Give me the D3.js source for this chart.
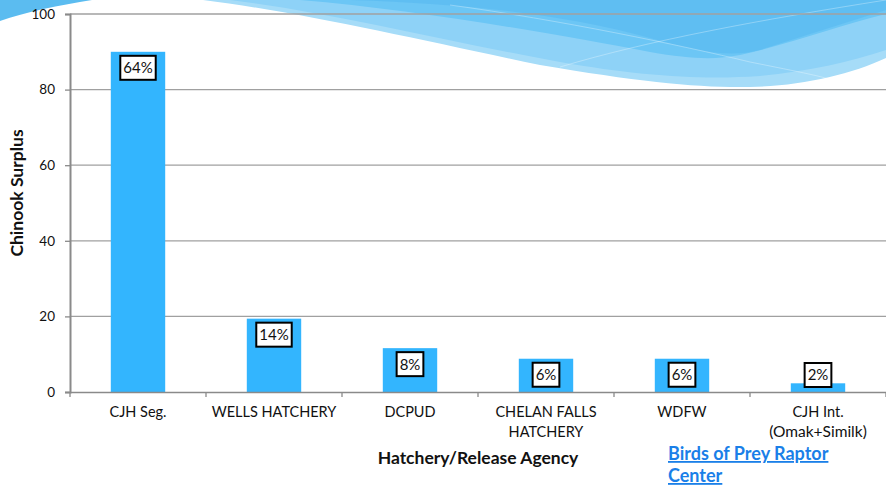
<!DOCTYPE html>
<html>
<head>
<meta charset="utf-8">
<script src="https://cdn.jsdelivr.net/npm/d3@7"></script>
<style>
  body { margin: 0; background: #fff; }
  svg { display: block; font-family: Lato, "Open Sans", sans-serif; }
</style>
</head>
<body>
<svg id="chart" width="886" height="489"></svg>
<script>
// chart data
const agencies = ["CJH Seg.", "WELLS HATCHERY", "DCPUD", "CHELAN FALLS\nHATCHERY", "WDFW", "CJH Int.\n(Omak+Similk)"]
const surplus = [90, 19.4, 11.6, 8.8, 8.8, 2.3]
const percents = ["64%", "14%", "8%", "6%", "6%", "2%"]
const yTicks = [0, 20, 40, 60, 80, 100]

const svg = d3.select("#chart")
const margin = {left: 70, right: 0, top: 14, bottom: 97}
const W = 886, H = 489
const x0 = margin.left, x1 = W - margin.right
const y0 = H - margin.bottom, y1 = margin.top

// slide background swoosh (decoration only)
const bg = svg.append("g")
bg.append("path")
    .attr("d", "M0,0 L92,0 C60,5 25,12 0,21 Z")
    .attr("fill", "#5bbcf0")
bg.append("path")
    .attr("d", "M203,0 C300,12 420,40 540,65 C640,82 700,88 750,87 C800,86 850,75 886,58 L886,0 Z")
    .attr("fill", "#a6dcf8")
bg.append("path")
    .attr("d", "M230,0 C330,12 440,40 560,62 C640,76 700,80 760,76 C810,71 850,62 886,50 L886,0 Z")
    .attr("fill", "#8ed2f7")
bg.append("path")
    .attr("d", "M300,0 C420,10 560,35 650,52 C690,59 715,60 740,55 C790,44 840,25 886,14 L886,0 Z")
    .attr("fill", "#6cc6f5")
bg.append("path")
    .attr("d", "M350,0 C470,4 560,14 650,38 C700,52 730,58 760,50 L886,10 L886,0 Z")
    .attr("fill", "#5cbcf1")
    .attr("opacity", 0.8)
bg.append("path")
    .attr("d", "M560,67 C650,40 760,20 886,0")
    .attr("fill", "none").attr("stroke", "#ffffff").attr("stroke-opacity", 0.3).attr("stroke-width", 1)
bg.append("path")
    .attr("d", "M450,5 C560,20 680,45 750,62 C800,72 830,78 830,80")
    .attr("fill", "none").attr("stroke", "#ffffff").attr("stroke-opacity", 0.3).attr("stroke-width", 1)

// scales
const x = d3.scaleBand().domain(agencies).range([x0, x1]).paddingInner(0.6).paddingOuter(0.3)
const xBand = d3.scaleBand().domain(agencies).range([x0, x1])
const y = d3.scaleLinear().domain([0, 100]).range([y0, y1])

// gridlines
svg.append("g")
    .selectAll("line")
    .data(yTicks.filter(d => d > 0))
    .join("line")
    .attr("x1", x0).attr("x2", x1)
    .attr("y1", d => y(d)).attr("y2", d => y(d))
    .attr("stroke", "#a0a0a0").attr("stroke-width", 1.3)

// y axis
const yAxis = svg.append("g")
    .attr("transform", `translate(${x0},0)`)
    .call(d3.axisLeft(y).tickValues(yTicks).tickSize(5).tickPadding(10))
yAxis.select(".domain").attr("stroke", "#8a8a8a").attr("stroke-width", 2)
yAxis.selectAll(".tick line").attr("stroke", "#8a8a8a").attr("stroke-width", 1.3)
yAxis.selectAll(".tick text").attr("font-size", 13.5).attr("fill", "#111").attr("font-family", "Lato")

// bars
svg.append("g")
    .selectAll("rect")
    .data(agencies)
    .join("rect")
    .attr("x", d => x(d))
    .attr("width", x.bandwidth())
    .attr("y", (d, i) => y(surplus[i]))
    .attr("height", (d, i) => y0 - y(surplus[i]))
    .attr("fill", "#33b5fe")

// x axis
const xAxis = svg.append("g")
    .attr("transform", `translate(0,${y0})`)
    .call(d3.axisBottom(xBand).tickSize(0).tickFormat(""))
xAxis.select(".domain").attr("stroke", "#8a8a8a").attr("stroke-width", 1.5)
svg.append("g")
    .selectAll("line")
    .data(agencies.concat([null]))
    .join("line")
    .attr("x1", (d, i) => i < agencies.length ? xBand(d) : x1)
    .attr("x2", (d, i) => i < agencies.length ? xBand(d) : x1)
    .attr("y1", y0).attr("y2", y0 + 5)
    .attr("stroke", "#8a8a8a").attr("stroke-width", 1.3)

// x labels
svg.append("g")
    .selectAll("text")
    .data(agencies)
    .join("text")
    .attr("x", d => xBand(d) + xBand.bandwidth() / 2)
    .attr("y", y0 + 25)
    .attr("text-anchor", "middle")
    .attr("font-size", 14.5)
    .attr("fill", "#111")
    .each(function(d) {
        d.split("\n").forEach((line, k) => {
            d3.select(this).append("tspan")
                .attr("x", xBand(d) + xBand.bandwidth() / 2)
                .attr("dy", k == 0 ? 0 : 20)
                .attr("font-size", line.startsWith("(") ? 15.5 : 14.5)
                .text(line)
        })
    })

// percent labels in boxes
const lab = svg.append("g")
    .selectAll("g")
    .data(agencies)
    .join("g")
    .attr("transform", (d, i) => {
        let cy = Math.min(y(surplus[i]) + 16, y0 - 17)
        return `translate(${x(d) + x.bandwidth() / 2},${cy})`
    })
lab.append("rect")
lab.append("text")
    .attr("text-anchor", "middle")
    .attr("dy", "0.36em")
    .attr("font-size", 15)
    .attr("fill", "#111")
    .text((d, i) => percents[i])
lab.each(function() {
    let g = d3.select(this)
    let bb = g.select("text").node().getBBox()
    g.select("rect")
        .attr("x", -bb.width / 2 - 3).attr("width", bb.width + 6)
        .attr("y", -12).attr("height", 24)
        .attr("fill", "#fff").attr("stroke", "#000").attr("stroke-width", 2)
})

// axis titles
svg.append("text")
    .attr("transform", `translate(23,${(y0 + y1) / 2 - 10}) rotate(-90)`)
    .attr("text-anchor", "middle")
    .attr("font-size", 17.5).attr("font-weight", "bold").attr("fill", "#111")
    .text("Chinook Surplus")
svg.append("text")
    .attr("x", (x0 + x1) / 2).attr("y", 464)
    .attr("text-anchor", "middle")
    .attr("font-size", 17.5).attr("font-weight", "bold").attr("fill", "#111")
    .text("Hatchery/Release Agency")

// source link
const link = svg.append("text")
    .attr("x", 668).attr("y", 460)
    .attr("font-size", 18).attr("font-weight", "bold")
    .attr("fill", "#1a7fe8").attr("text-decoration", "underline")
link.append("tspan").attr("x", 668).attr("dy", 0).text("Birds of Prey Raptor")
link.append("tspan").attr("x", 668).attr("dy", 22).text("Center")
</script>
</body>
</html>
